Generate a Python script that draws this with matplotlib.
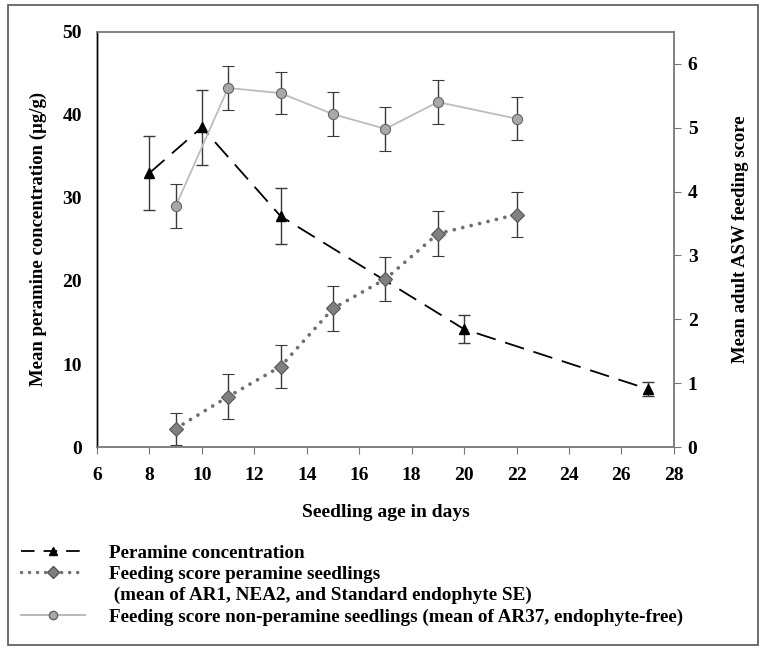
#!/usr/bin/env python3
"""Peramine concentration vs. ASW feeding score over seedling age."""

import matplotlib
matplotlib.use('Agg')
import matplotlib.pyplot as plt
from matplotlib.lines import Line2D
from matplotlib.patches import Rectangle

plt.rcParams['font.family'] = 'Liberation Serif'
plt.rcParams['font.weight'] = 'bold'

# Peramine concentration (left axis, ug/g)
peramine_days = [8, 10, 13, 20, 27]
peramine_mean = [33.0, 38.5, 27.8, 14.2, 7.0]
peramine_err = [4.5, 4.5, 3.4, 1.7, 0.8]

# Feeding scores (right axis)
score_days = [9, 11, 13, 15, 17, 19, 22]
score_peramine = [0.29, 0.79, 1.26, 2.17, 2.63, 3.34, 3.64]
score_peramine_err = [0.25, 0.35, 0.34, 0.35, 0.34, 0.35, 0.35]
score_nonperamine = [3.77, 5.62, 5.54, 5.21, 4.98, 5.40, 5.14]
score_nonperamine_err = [0.34, 0.34, 0.33, 0.34, 0.35, 0.34, 0.34]

labels = ['Peramine concentration',
          'Feeding score peramine seedlings',
          ' (mean of AR1, NEA2, and Standard endophyte SE)',
          'Feeding score non-peramine seedlings (mean of AR37, endophyte-free)']

fig = plt.figure(figsize=(7.64, 6.48), dpi=100)
ax = fig.add_axes([0.127, 0.310, 0.755, 0.641])
ax2 = ax.twinx()

err_kw = dict(ecolor='#3a3a3a', elinewidth=1.0, capsize=4.3, capthick=1.0)

# Peramine line
ax.errorbar(peramine_days, peramine_mean, yerr=peramine_err,
            color='black', linestyle=(0, (11, 5.5)), linewidth=1.3,
            marker='^', markersize=7.5, markerfacecolor='black', **err_kw)

# Feeding score, peramine seedlings
ax2.errorbar(score_days, score_peramine, yerr=score_peramine_err,
             color='#6f6f6f', linestyle=(0, (0.01, 2.3)), linewidth=2.7,
             dash_capstyle='round', marker='D', markersize=7,
             markerfacecolor='#808080', markeredgecolor='#555555',
             markeredgewidth=0.8, **err_kw)

# Feeding score, non-peramine seedlings
ax2.errorbar(score_days, score_nonperamine, yerr=score_nonperamine_err,
             color='#bdbdbd', linestyle='-', linewidth=1.3,
             marker='o', markersize=7.3, markerfacecolor='#a8a8a8',
             markeredgecolor='#666666', markeredgewidth=0.8, **err_kw)

ax.set_xlim(6, 28)
ax.set_ylim(0, 50)
ax2.set_ylim(0, 6.5)
ax.set_xticks(range(6, 29, 2))
ax.set_yticks(range(0, 51, 10))
ax2.set_yticks(range(0, 7))

ax.tick_params(axis='x', direction='out', length=5, color='#777777',
               labelsize=14, pad=9)
ax.tick_params(axis='y', length=0, labelsize=14, pad=11)
ax2.tick_params(axis='y', direction='out', length=5, color='#777777',
                labelsize=14, pad=5)

for a in (ax, ax2):
    for side in ('top', 'right', 'bottom'):
        a.spines[side].set_color('#808080')
        a.spines[side].set_linewidth(1.2)
    a.spines['left'].set_color('black')
    a.spines['left'].set_linewidth(1.0)

ax.set_ylabel('Mean peramine concentration (µg/g)', fontsize=13.5,
              fontweight='bold', labelpad=11)
ax2.set_ylabel('Mean adult ASW feeding score', fontsize=13.5,
               fontweight='bold', labelpad=25)
ax.set_xlabel('Seedling age in days', fontsize=14, fontweight='bold',
              labelpad=15)

# Legend
handles = [
    Line2D([], [], color='black', linestyle=(0, (7.5, 5)), linewidth=1.3,
           marker='^', markersize=6, markerfacecolor='black'),
    Line2D([], [], color='#6f6f6f', linestyle=(0, (0.01, 2.3)), linewidth=2.5,
           dash_capstyle='round', marker='D', markersize=6.5,
           markerfacecolor='#808080', markeredgecolor='#555555'),
    Line2D([], [], linestyle='none'),
    Line2D([], [], color='#b4b4b4', linestyle='-', linewidth=1.3,
           marker='o', markersize=6, markerfacecolor='#a8a8a8',
           markeredgecolor='#666666'),
]
fig.legend(handles, labels, loc='upper left', bbox_to_anchor=(0.025, 0.163),
           frameon=False, fontsize=13.8, handlelength=3.35, handletextpad=1.25,
           labelspacing=0.2, borderaxespad=0, borderpad=0.1)

# Outer frame
fig.patches.append(Rectangle((0.011, 0.004), 0.981, 0.988,
                             transform=fig.transFigure, fill=False,
                             edgecolor='#555555', linewidth=1.2))

fig.savefig('out.png', dpi=100, facecolor='white')
